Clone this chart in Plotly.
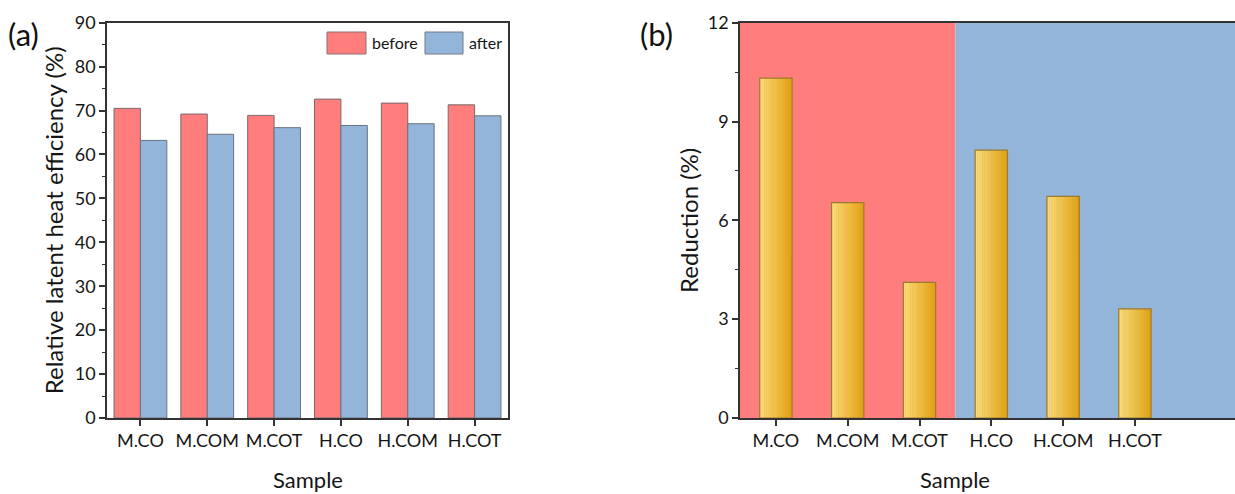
import plotly.graph_objects as go

samples = ["M.CO", "M.COM", "M.COT", "H.CO", "H.COM", "H.COT"]
before = [70.5, 69.2, 68.9, 72.6, 71.7, 71.3]
after = [63.2, 64.6, 66.1, 66.6, 67.0, 68.8]
reduction = [10.32, 6.54, 4.12, 8.13, 6.73, 3.31]

W, H = 1235, 494
FONT = "Lato"
RED = "#FF7D7D"
BLUE = "#93B5D9"
AXC = "#333333"
TXT = "#151515"

def px(x):
    return x / W

def py(y):
    return 1 - y / H

fig = go.Figure()

# Panel (a)
bw = 0.395
fig.add_trace(go.Bar(x=samples, y=before, xaxis="x", yaxis="y", width=bw, offset=-bw,
                     marker=dict(color=RED, line=dict(color="#7a6a6a", width=1)),
                     name="before", showlegend=False))
fig.add_trace(go.Bar(x=samples, y=after, xaxis="x", yaxis="y", width=bw, offset=0,
                     marker=dict(color=BLUE, line=dict(color="#6a7280", width=1)),
                     name="after", showlegend=False))

# Panel (b) gradient bars built from slices
def lerp(c1, c2, t):
    a = [int(c1[i:i + 2], 16) for i in (1, 3, 5)]
    b = [int(c2[i:i + 2], 16) for i in (1, 3, 5)]
    return "#%02x%02x%02x" % tuple(round(a[k] + (b[k] - a[k]) * t) for k in range(3))

bw2 = 0.45
n = 14
sw = bw2 / n
for i in range(n):
    t = i / (n - 1)
    fig.add_trace(go.Bar(x=samples, y=reduction, xaxis="x2", yaxis="y2",
                         width=sw * 1.08, offset=-bw2 / 2 + i * sw,
                         marker=dict(color=lerp("#FADA74", "#E2A312", t), line=dict(width=0)),
                         showlegend=False, hoverinfo="skip"))
fig.add_trace(go.Bar(x=samples, y=reduction, xaxis="x2", yaxis="y2", width=bw2, offset=-bw2 / 2,
                     marker=dict(color="rgba(0,0,0,0)", line=dict(color="#9C7A2E", width=1.2)),
                     showlegend=False, name="Reduction"))

ydom = [py(418), py(22.7)]
tickfont = dict(family=FONT, size=18, color=TXT)
ytitlefont = dict(family=FONT, size=24, color=TXT)
xtitlefont = dict(family=FONT, size=22, color=TXT)

common = dict(showline=True, linecolor=AXC, linewidth=1.5, ticks="outside", ticklen=6,
              tickcolor=AXC, tickwidth=1.5, tickfont=tickfont, showgrid=False,
              zeroline=False, automargin=False)

fig.update_layout(
    width=W, height=H, margin=dict(l=0, r=0, t=0, b=0, pad=0),
    paper_bgcolor="white", plot_bgcolor="white",
    barmode="overlay",
    font=dict(family=FONT, color=TXT),
    xaxis=dict(domain=[px(107), px(508)], type="category", range=[-0.5, 5.5], mirror=True,
               anchor="y", **common),
    yaxis=dict(domain=ydom, range=[0, 90], dtick=10, tick0=0, mirror=True,
               minor=dict(dtick=5, ticks="outside", ticklen=3, tickcolor=AXC, tickwidth=1),
               title=dict(text="Relative latent heat efficiency (%)", font=ytitlefont, standoff=4),
               anchor="x", **common),
    xaxis2=dict(domain=[px(740), 1.0], type="category", range=[-0.5, 6.394], mirror=True,
                anchor="y2", **common),
    yaxis2=dict(domain=ydom, range=[0, 12], dtick=3, tick0=0, mirror=False,
                minor=dict(dtick=1.5, ticks="outside", ticklen=3, tickcolor=AXC, tickwidth=1),
                title=dict(text="Reduction (%)", font=ytitlefont, standoff=2),
                anchor="x2", **common),
    shapes=[
        dict(type="rect", xref="x2", yref="y2 domain", x0=-0.5, x1=2.5, y0=0, y1=1,
             fillcolor=RED, line=dict(width=0), layer="below"),
        dict(type="rect", xref="x2", yref="y2 domain", x0=2.5, x1=7, y0=0, y1=1,
             fillcolor=BLUE, line=dict(width=0), layer="below"),
        # legend swatches (panel a)
        dict(type="rect", xref="paper", yref="paper", x0=px(327), x1=px(366), y0=py(54), y1=py(32),
             fillcolor=RED, line=dict(color="#8a7070", width=1)),
        dict(type="rect", xref="paper", yref="paper", x0=px(425), x1=px(463), y0=py(54), y1=py(32),
             fillcolor=BLUE, line=dict(color="#707a8a", width=1)),
    ],
    annotations=[
        dict(text="before", xref="paper", yref="paper", x=px(370), y=py(43), xanchor="left",
             yanchor="middle", showarrow=False, font=dict(family=FONT, size=16, color=TXT)),
        dict(text="after", xref="paper", yref="paper", x=px(467), y=py(43), xanchor="left",
             yanchor="middle", showarrow=False, font=dict(family=FONT, size=16, color=TXT)),
        dict(text="(a)", xref="paper", yref="paper", x=px(6), y=py(34), xanchor="left",
             yanchor="middle", showarrow=False, font=dict(family=FONT, size=31, color="#111")),
        dict(text="(b)", xref="paper", yref="paper", x=px(638), y=py(34), xanchor="left",
             yanchor="middle", showarrow=False, font=dict(family=FONT, size=31, color="#111")),
        dict(text="Sample", xref="x", yref="paper", x=2.5, y=py(479), xanchor="center",
             yanchor="middle", showarrow=False, font=xtitlefont),
        dict(text="Sample", xref="x2", yref="paper", x=2.5, y=py(479), xanchor="center",
             yanchor="middle", showarrow=False, font=xtitlefont),
    ],
)

fig.write_html("out.html")
